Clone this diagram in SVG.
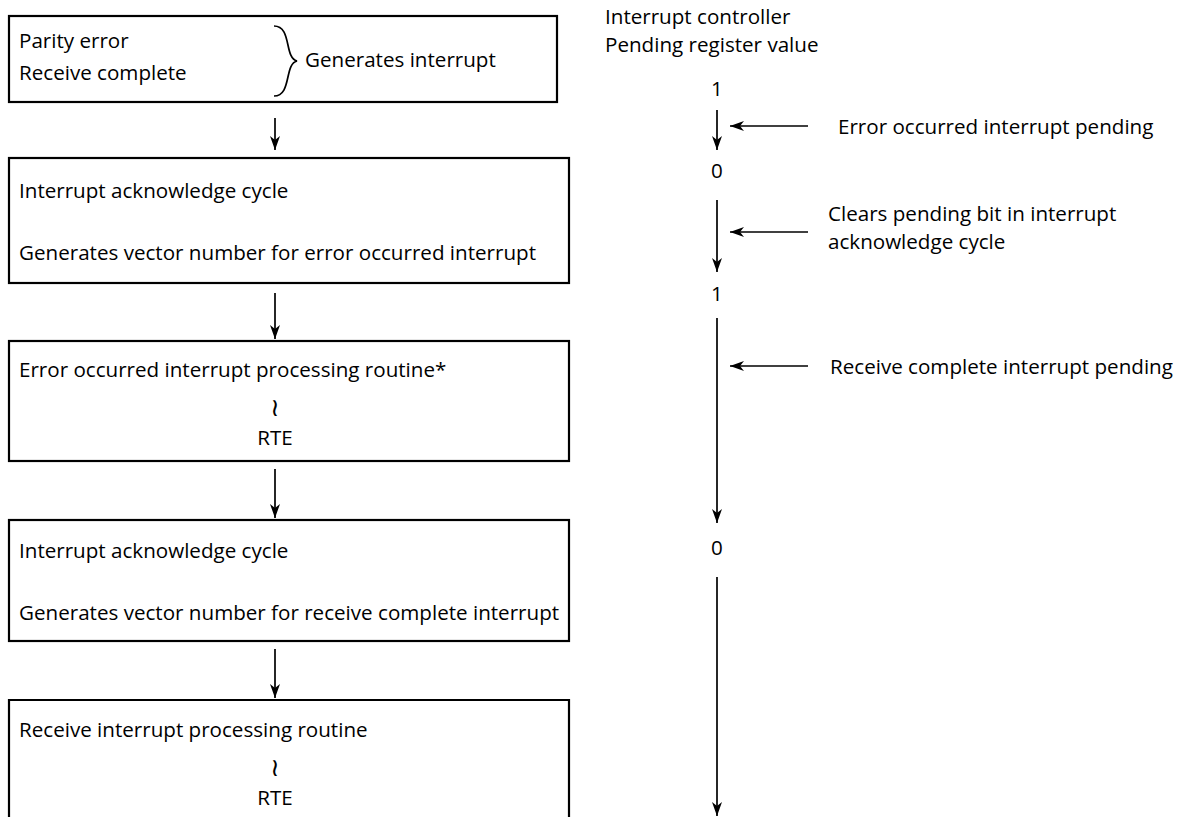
<svg xmlns="http://www.w3.org/2000/svg" width="1182" height="817" viewBox="0 0 1182 817">
<style>
text{font-family:"Open Sans","Noto Sans","Liberation Sans",sans-serif;font-size:20.6px;fill:#000}
.box{fill:#fff;stroke:#000;stroke-width:2.2}
.ln{stroke:#000;stroke-width:1.7;fill:none}
.mid{text-anchor:middle}
.sq{font-family:"DejaVu Sans",sans-serif;font-size:25px}
</style>
<defs>
<marker id="ah" viewBox="0 0 14 10" refX="14" refY="5" markerWidth="14" markerHeight="10" markerUnits="userSpaceOnUse" orient="auto">
<path d="M0,0 L14,5 L0,10 L4,5 Z" fill="#000"/>
</marker>
</defs>
<rect width="1182" height="817" fill="#fff"/>
<g id="node-events">
<rect class="box" x="9" y="16" width="548" height="86"/>
<text x="19" y="48">Parity error</text>
<text x="19" y="80">Receive complete</text>
<path class="ln" d="M274,26 C292,26 284,58 297,61 C284,64 292,96 274,96"/>
<text x="305" y="67">Generates interrupt</text>
</g>
<g id="node-iack1">
<rect class="box" x="9" y="158" width="560" height="125"/>
<text x="19" y="198">Interrupt acknowledge cycle</text>
<text x="19" y="260">Generates vector number for error occurred interrupt</text>
</g>
<g id="node-err-routine">
<rect class="box" x="9" y="341" width="560" height="120"/>
<text x="19" y="377">Error occurred interrupt processing routine*</text>
<text class="mid sq" x="275" y="416">≀</text>
<text class="mid" x="275" y="445">RTE</text>
</g>
<g id="node-iack2">
<rect class="box" x="9" y="520" width="560" height="121"/>
<text x="19" y="558">Interrupt acknowledge cycle</text>
<text x="19" y="620">Generates vector number for receive complete interrupt</text>
</g>
<g id="node-rcv-routine">
<path class="box" d="M9,822 L9,700 L569,700 L569,822"/>
<text x="19" y="737">Receive interrupt processing routine</text>
<text class="mid sq" x="275" y="776">≀</text>
<text class="mid" x="275" y="805">RTE</text>
</g>
<g id="pending-register">
<text x="605" y="24">Interrupt controller</text>
<text x="605" y="52">Pending register value</text>
<text class="mid" x="717" y="96">1</text>
<text class="mid" x="717" y="178">0</text>
<text class="mid" x="717" y="301">1</text>
<text class="mid" x="717" y="555">0</text>
<text x="838" y="134">Error occurred interrupt pending</text>
<text x="828" y="221">Clears pending bit in interrupt</text>
<text x="828" y="249">acknowledge cycle</text>
<text x="830" y="374">Receive complete interrupt pending</text>
</g>
<g id="connectors">
<line class="ln" x1="275" y1="118" x2="275" y2="150" marker-end="url(#ah)"/>
<line class="ln" x1="275" y1="293" x2="275" y2="339" marker-end="url(#ah)"/>
<line class="ln" x1="275" y1="469" x2="275" y2="518" marker-end="url(#ah)"/>
<line class="ln" x1="275" y1="649" x2="275" y2="698" marker-end="url(#ah)"/>
<line class="ln" x1="717" y1="110" x2="717" y2="150" marker-end="url(#ah)"/>
<line class="ln" x1="717" y1="200" x2="717" y2="272" marker-end="url(#ah)"/>
<line class="ln" x1="717" y1="318" x2="717" y2="523" marker-end="url(#ah)"/>
<line class="ln" x1="717" y1="577" x2="717" y2="816" marker-end="url(#ah)"/>
<line class="ln" x1="808" y1="126" x2="730" y2="126" marker-end="url(#ah)"/>
<line class="ln" x1="808" y1="232" x2="730" y2="232" marker-end="url(#ah)"/>
<line class="ln" x1="808" y1="366" x2="730" y2="366" marker-end="url(#ah)"/>
</g>
</svg>
